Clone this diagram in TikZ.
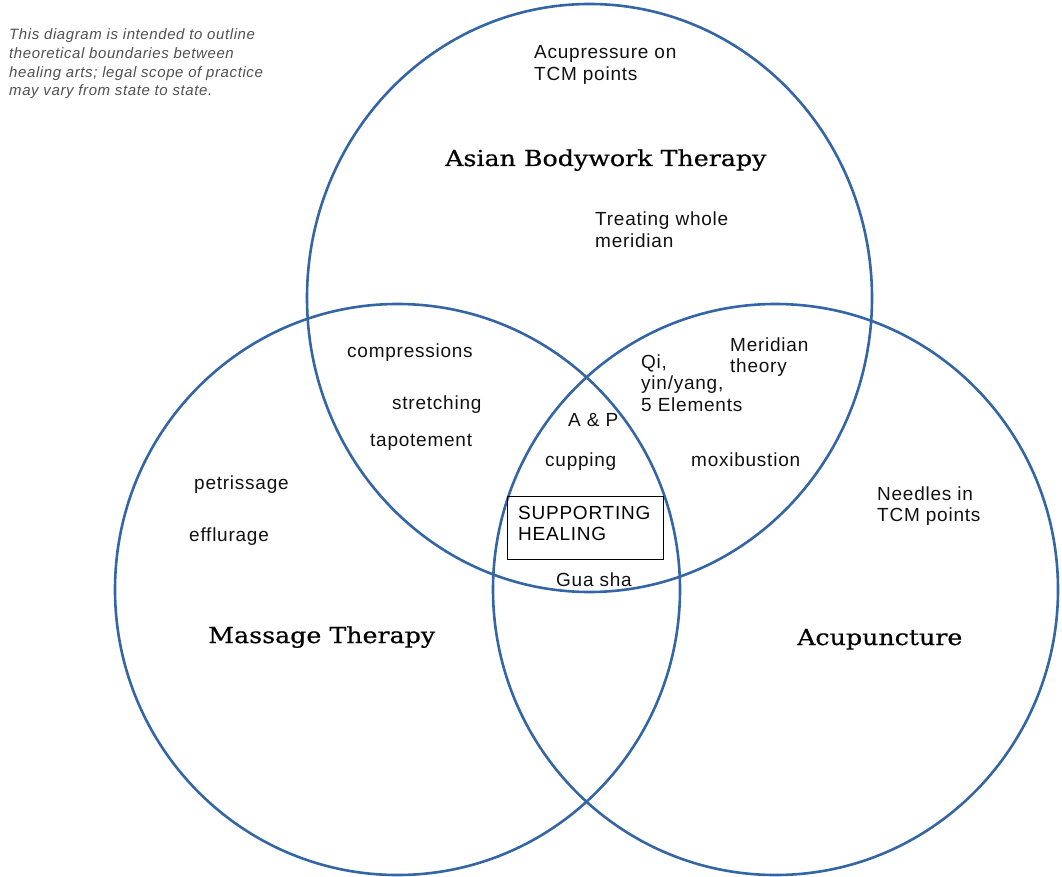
\documentclass[tikz,border=0pt]{standalone}
\usepackage{fontspec}
\setmainfont{Liberation Sans}[LetterSpace=4]
\newfontfamily\titlefont{DejaVu Serif}[FakeStretch=1.15,FakeBold=0.6]
\newfontfamily\notefont{Liberation Sans}[LetterSpace=4]
\definecolor{vennblue}{HTML}{3465A4}
\definecolor{notegray}{HTML}{505050}
\definecolor{txt}{HTML}{111111}
\begin{document}
\begin{tikzpicture}[x=1pt,y=-1pt,
  venn/.style={draw=vennblue,line width=2.6pt},
  lbl/.style={anchor=base west,inner sep=0pt,align=left,text=txt,
    font=\fontsize{19}{21.5}\selectfont},
  ttl/.style={anchor=base west,inner sep=0pt,text=black,
    font=\titlefont\fontsize{22}{26}\selectfont},
  notetxt/.style={anchor=base west,inner sep=0pt,align=left,text=notegray,
    font=\notefont\itshape\fontsize{15}{18.7}\selectfont}]
\useasboundingbox (0,0) rectangle (1062,877);
% circles
\draw[venn] (589.5,298) ellipse [x radius=282.5pt, y radius=294pt];
\draw[venn] (397.5,589.5) ellipse [x radius=282.5pt, y radius=285.5pt];
\draw[venn] (775.5,589.5) ellipse [x radius=282.5pt, y radius=285.5pt];
% note (positions give the baseline of the last line)
\node[notetxt] (note) at (9,96) {This diagram is intended to outline\\theoretical boundaries between\\healing arts; legal scope of practice\\may vary from state to state.};
% titles
\node[ttl] (abt) at (445,166) {Asian Bodywork Therapy};
\node[ttl] (mt) at (208,643) {Massage Therapy};
\node[ttl] (acu) at (797,645) {Acupuncture};
% labels
\node[lbl] (acup) at (534,80.5) {Acupressure on\\TCM points};
\node[lbl] (treat) at (595,247.5) {Treating whole\\meridian};
\node[lbl] (comp) at (347,357) {compressions};
\node[lbl] (stretch) at (392,409) {stretching};
\node[lbl] (tapo) at (370,446) {tapotement};
\node[lbl] (merid) at (730,372.5) {Meridian\\theory};
\node[lbl] (qi) at (641,411) {Qi,\\yin/yang,\\5 Elements};
\node[lbl] (ap) at (568,426) {A \& P};
\node[lbl] (cup) at (545,466) {cupping};
\node[lbl] (moxi) at (691,466) {moxibustion};
\node[lbl] (petr) at (194,489) {petrissage};
\node[lbl] (effl) at (189,541) {efflurage};
\node[lbl] (needles) at (877,521.5) {Needles in\\TCM points};
\node[draw=black,line width=0.8pt,minimum width=156pt,minimum height=63pt,inner sep=0pt] (box) at (585,527.5) {};
\node[lbl,text=black] (supp) at (518,540.5) {SUPPORTING\\HEALING};
\node[lbl] (gua) at (556,586) {Gua sha};
\end{tikzpicture}
\end{document}
